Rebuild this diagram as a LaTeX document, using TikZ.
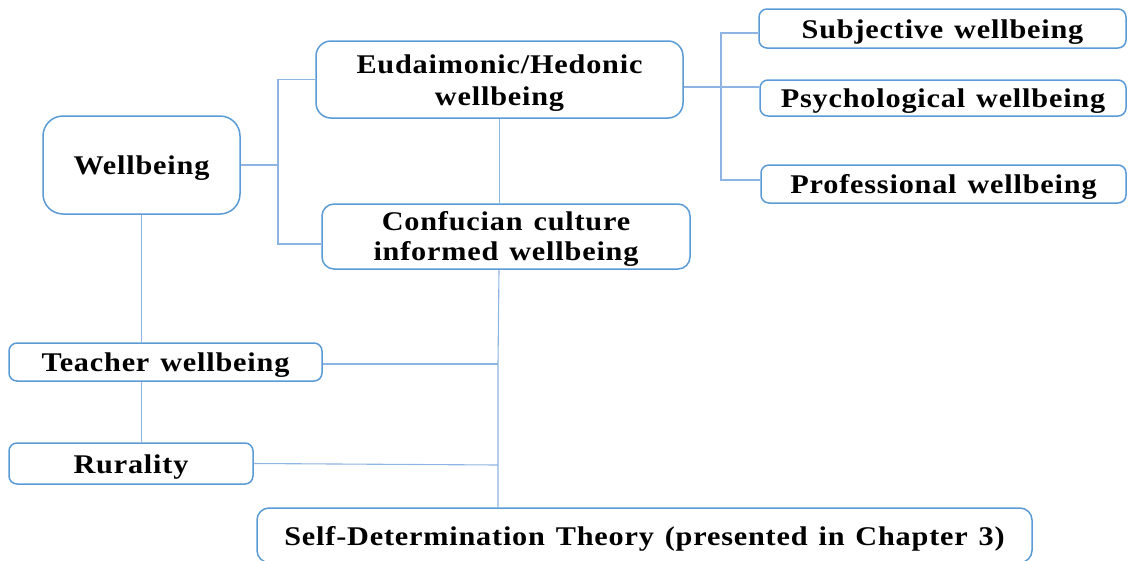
\documentclass[tikz,border=0pt]{standalone}
\usepackage{fontspec}
\setmainfont{Liberation Serif}[FakeStretch=1.12, LetterSpace=3, WordSpace=1.3]
\usetikzlibrary{calc}
\definecolor{boxblue}{HTML}{5B9BD5}
\definecolor{linkblue}{HTML}{8DB4E2}
\tikzset{
  box/.style={draw=boxblue, line width=1.5pt, fill=white, rounded corners=8pt,
    inner sep=0pt, align=center, text height=19.5pt, text depth=0pt,
    font=\fontsize{27}{32}\selectfont\bfseries},
  link/.style={draw=linkblue, line width=1.1pt},
}
\begin{document}
\begin{tikzpicture}[x=1pt,y=-1pt]
\useasboundingbox (0,0) rectangle (1128,560);
% nodes
\node[box, rounded corners=20pt, minimum width=197pt, minimum height=98pt] (well) at (141.5,165) {Wellbeing};
\node[box, text height=52pt, text depth=1pt, rounded corners=15pt, minimum width=367pt, minimum height=77pt] (eud) at (499.5,79.5) {Eudaimonic/Hedonic\\wellbeing};
\node[box, text height=48pt, text depth=1pt, rounded corners=12pt, minimum width=368pt, minimum height=65pt, font=\fontsize{27}{30}\selectfont\bfseries] (conf) at (506,236.5) {Confucian culture\\informed wellbeing};
\node[box, minimum width=367pt, minimum height=39pt] (subj) at (942.5,28.5) {Subjective wellbeing};
\node[box, minimum width=366pt, minimum height=36pt] (psych) at (943,98) {Psychological wellbeing};
\node[box, minimum width=365pt, minimum height=38pt] (prof) at (943.5,184) {Professional wellbeing};
\node[box, minimum width=313pt, minimum height=38pt] (teach) at (165.5,362) {Teacher wellbeing};
\node[box, minimum width=244pt, minimum height=41pt] (rural) at (131,463.5) {Rurality};
\node[box, rounded corners=12pt, minimum width=775pt, minimum height=54.5pt] (sdt) at (644.5,535.25) {Self-Determination Theory (presented in Chapter 3)};
% junctions
\coordinate (j1) at (278,165);
\coordinate (j2) at (721,87);
\coordinate (j3) at (498,364);
\coordinate (j4) at (498,465);
% connectors
\draw[link] (well.east) -- (j1);
\draw[link] (eud.west) -| (j1) |- ([yshift=-7.5pt]conf.west);
\draw[link] ([yshift=-7.5pt]eud.east) -- (j2) -- (psych.west |- j2);
\draw[link] ([yshift=-4.5pt]subj.west) -| (j2) |- ([yshift=4pt]prof.west);
\draw[link] (eud.south) -- (eud.south |- conf.north);
\draw[link] ([xshift=-7pt]conf.south) -- (j3) -- (j4) -- (j4 |- sdt.north);
\draw[link] (teach.east |- j3) -- (j3);
\draw[link] (rural.east) -- (j4);
\draw[link] (well.south) -- (well.south |- teach.north);
\draw[link] (well.south |- teach.south) -- (well.south |- rural.north);
\end{tikzpicture}
\end{document}
